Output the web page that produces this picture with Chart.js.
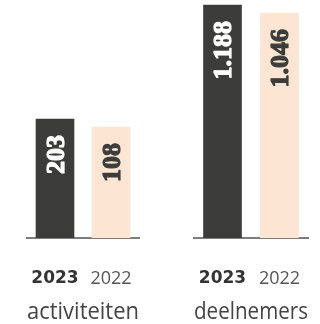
<!DOCTYPE html>
<html lang="nl">
<head>
<meta charset="utf-8">
<script src="https://cdn.jsdelivr.net/npm/chart.js@4"></script>
<style>
  html, body { margin: 0; padding: 0; background: #fff; }
  body { width: 320px; height: 324px; position: relative; overflow: hidden; }
  .panel { position: absolute; top: 0; width: 160px; height: 324px; }
  #p1 { left: 0; }
  #p2 { left: 160px; }
</style>
</head>
<body>
<div class="panel" id="p1"><canvas id="c1"></canvas></div>
<div class="panel" id="p2"><canvas id="c2"></canvas></div>
<script>
// Jaaroverzicht: activiteiten en deelnemers, 2023 tegenover 2022
const years = ['2023', '2022'];
const categories = ['activiteiten', 'deelnemers'];
const activiteiten = [203, 108];
const deelnemers = [1188, 1046];
// bounds of the (hidden) value axes; bars are drawn up from the lower bound
const activiteitenRange = [-1210, 1616];
const deelnemersRange = [-2948, 1276];

const DARK = '#3c3c3a';
const LIGHT = '#fde5d3';

// Dutch thousands separator: 1188 -> "1.188"
function formatNL(v) {
  return String(v).replace(/\B(?=(\d{3})+(?!\d))/g, '.');
}

// rotated value labels inside the top of every bar
const valueLabels = {
  id: 'valueLabels',
  afterDatasetsDraw(chart) {
    const ctx = chart.ctx;
    const ds = chart.data.datasets[0];
    const size = 26;
    chart.getDatasetMeta(0).data.forEach((bar, i) => {
      const colour = i === 0 ? '#ffffff' : DARK;
      ctx.save();
      ctx.translate(bar.x, bar.y + 16);
      ctx.rotate(-Math.PI / 2);
      ctx.textAlign = 'right';
      ctx.textBaseline = 'alphabetic';
      ctx.font = 'bold ' + size + 'px "Liberation Serif"';
      ctx.fillStyle = colour;
      ctx.strokeStyle = colour;
      ctx.lineWidth = 1.2;
      ctx.lineJoin = 'round';
      const text = formatNL(ds.data[i]);
      ctx.strokeText(text, 0, size * 0.34);
      ctx.fillText(text, 0, size * 0.34);
      ctx.restore();
    });
  }
};

function makeChart(id, title, values, range, padLeft, padRight) {
  return new Chart(document.getElementById(id), {
    type: 'bar',
    data: {
      labels: years,
      datasets: [{
        data: values,
        base: range[0],
        backgroundColor: [DARK, LIGHT],
        borderWidth: 0,
        barThickness: 38
      }]
    },
    options: {
      responsive: true,
      maintainAspectRatio: false,
      animation: false,
      events: [],
      layout: { padding: { left: padLeft, right: padRight, top: 0, bottom: 0 } },
      plugins: { legend: { display: false }, tooltip: { enabled: false } },
      scales: {
        y: { display: false, min: range[0], max: range[1] },
        x: {
          grid: {
            display: true,
            drawOnChartArea: false,
            drawTicks: true,
            tickLength: 30,
            color: 'rgba(0,0,0,0)'
          },
          border: { display: true, color: '#7d7d7d', width: 2 },
          ticks: {
            padding: 0,
            color: ctx => ctx.index === 0 ? '#333333' : '#555555',
            font: ctx => ctx.index === 0
              ? { family: 'DejaVu Sans', weight: 'bold', size: 17 }
              : { family: 'Open Sans', weight: 'normal', size: 18 }
          },
          title: {
            display: true,
            text: title,
            color: '#444444',
            font: { family: 'Open Sans', size: 23, lineHeight: 1.0 },
            padding: { top: 0, bottom: 0 }
          },
          afterFit(scale) { scale.height = 86; }
        }
      }
    },
    plugins: [valueLabels]
  });
}

makeChart('c1', categories[0], activiteiten, activiteitenRange, 27, 21);
makeChart('c2', categories[1], deelnemers, deelnemersRange, 34, 12);
</script>
</body>
</html>
